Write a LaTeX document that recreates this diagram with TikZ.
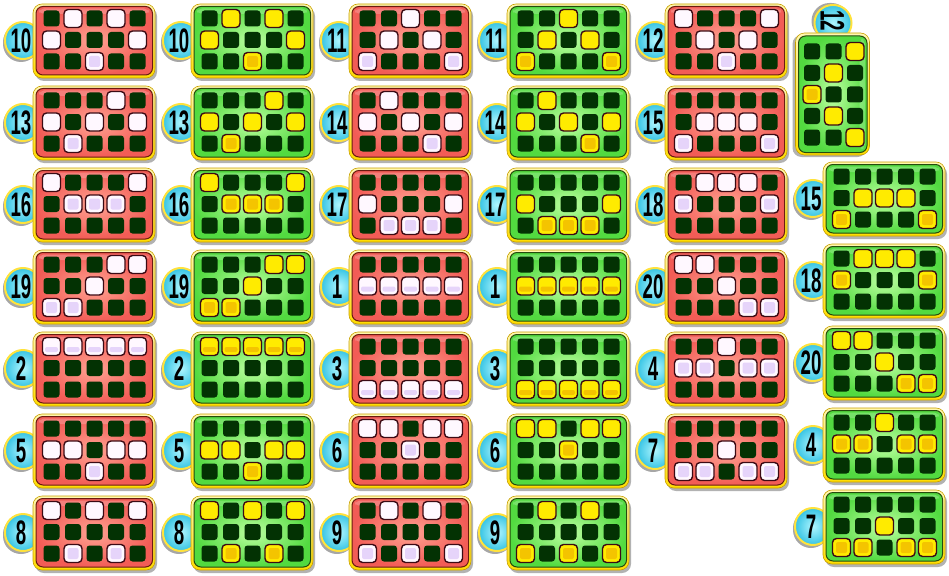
\documentclass[tikz,border=0pt]{standalone}
\usepackage{fontspec}
\newfontfamily\badgefont{Liberation Sans}

% 色
\definecolor{rimtop}{HTML}{FFF7B0}
\definecolor{rimbot}{HTML}{FFDC00}
\definecolor{rimline}{HTML}{C8A000}
\definecolor{redin}{HTML}{FFA292}
\definecolor{redout}{HTML}{F25C56}
\definecolor{redline}{HTML}{6A1A10}
\definecolor{greenin}{HTML}{BCFFA0}
\definecolor{greenout}{HTML}{52DA40}
\definecolor{greenline}{HTML}{244A0C}
\definecolor{darkcell}{HTML}{033203}
\definecolor{cellrim}{HTML}{3C0A14}
\definecolor{litwhite}{HTML}{FFF8FF}
\definecolor{lavender}{HTML}{E6D4FA}
\definecolor{lityellow}{HTML}{FFEB00}
\definecolor{litorange}{HTML}{F4C400}
\definecolor{badgein}{HTML}{B0F6FF}
\definecolor{badgeout}{HTML}{36C4E4}
\definecolor{badgerim}{HTML}{FFE23C}

\tikzset{
  cardshadow/.style={fill=black, opacity=.3, rounded corners=9pt},
  cardrim/.style={rounded corners=9pt, top color=rimtop, bottom color=rimbot, draw=rimline, line width=.6pt},
  redpanel/.style={rounded corners=7pt, inner color=redin, outer color=redout, draw=redline, line width=1pt},
  greenpanel/.style={rounded corners=7pt, inner color=greenin, outer color=greenout, draw=greenline, line width=1pt},
  gloss/.style={fill=white, opacity=.22, rounded corners=5pt},
  deadcell/.style={fill=darkcell, rounded corners=3pt},
  redlit/.style={fill=litwhite, draw=cellrim, line width=1.4pt, rounded corners=4pt},
  greenlit/.style={fill=lityellow, draw=cellrim, line width=1.4pt, rounded corners=4pt},
  redtint/.style={fill=lavender, rounded corners=2pt},
  greentint/.style={fill=litorange, rounded corners=2pt},
  badgeshadow/.style={fill=black, opacity=.35, rounded corners=18pt},
  badge/.style={rounded corners=18pt, inner color=badgein, outer color=badgeout, draw=badgerim, line width=2pt},
  badgenum/.style={font=\badgefont\bfseries\fontsize{34}{34}\selectfont, xscale=.55, inner sep=0pt},
}

% 光るマス: 列/行/種類 (1 白, 2 内側に色, 3 帯)
\newcommand{\defcells}[2]{\expandafter\def\csname cells-#1\endcsname{#2}}
\defcells{10}{1/0/1,3/0/1,0/1/1,4/1/1,2/2/2}
\defcells{13}{3/0/1,0/1/1,2/1/1,4/1/1,1/2/2}
\defcells{16}{0/0/1,4/0/1,1/1/2,2/1/2,3/1/2}
\defcells{19}{3/0/1,4/0/1,2/1/1,0/2/2,1/2/2}
\defcells{2}{0/0/3,1/0/3,2/0/3,3/0/3,4/0/3}
\defcells{5}{0/1/1,1/1/1,3/1/1,4/1/1,2/2/2}
\defcells{8}{0/0/1,2/0/1,4/0/1,1/2/2,3/2/2}
\defcells{11}{2/0/1,1/1/1,3/1/1,0/2/2,4/2/2}
\defcells{14}{1/0/1,0/1/1,2/1/1,4/1/1,3/2/2}
\defcells{17}{0/1/1,4/1/1,1/2/2,2/2/2,3/2/2}
\defcells{1}{0/1/3,1/1/3,2/1/3,3/1/3,4/1/3}
\defcells{3}{0/2/3,1/2/3,2/2/3,3/2/3,4/2/3}
\defcells{6}{0/0/1,1/0/1,3/0/1,4/0/1,2/1/2}
\defcells{9}{1/0/1,3/0/1,0/2/2,2/2/2,4/2/2}
\defcells{12}{0/0/1,4/0/1,1/1/1,3/1/1,2/2/2}
\defcells{15}{1/1/1,2/1/1,3/1/1,0/2/2,4/2/2}
\defcells{18}{1/0/1,2/0/1,3/0/1,0/1/2,4/1/2}
\defcells{20}{0/0/1,1/0/1,2/1/1,3/2/2,4/2/2}
\defcells{4}{2/0/1,0/1/2,1/1/2,3/1/2,4/1/2}
\defcells{7}{2/1/1,0/2/2,1/2/2,3/2/2,4/2/2}

% カード1枚 (左上が原点): #1 = red/green, #2 = 番号
\newcommand{\bingocard}[2]{%
  \expandafter\let\expandafter\thecells\csname cells-#2\endcsname
  % 番号札
  \fill[badgeshadow] (-30,20) rectangle (6,58);
  \draw[badge] (-28,18) rectangle (8,55);
  \node[badgenum] (num-#1-#2) at (-12,37) {#2};
  % 枠
  \fill[cardshadow] (2,3) rectangle (124,77);
  \draw[cardrim] (0,0) rectangle (122,74);
  \draw[#1panel] (3,2.5) rectangle (119.5,71);
  \fill[gloss] (6,4.5) rectangle (116,10);
  % マス
  \foreach \c in {0,...,4} {
    \foreach \r in {0,1,2} {
      \fill[deadcell] ({10.5+21.5*\c},{6.5+21.5*\r}) rectangle +(16,16);
    }
  }
  \foreach \c/\r/\t in \thecells {
    \pgfmathsetmacro{\cx}{18.5+21.5*\c}
    \pgfmathsetmacro{\cy}{14.5+21.5*\r}
    \draw[#1lit] ({\cx-9},{\cy-9}) rectangle +(18,18);
    \ifnum\t=2 \fill[#1tint] ({\cx-5.5},{\cy-5.5}) rectangle +(11,11); \fi
    \ifnum\t=3 \fill[#1tint] ({\cx-6.5},{\cy+0.5}) rectangle +(13,5); \fi
  }
}

\begin{document}
\begin{tikzpicture}[x=1pt, y=-1pt]

    \useasboundingbox (0,0) rectangle (949,575);

    % 1・2列目
    \foreach \n [count=\j from 0] in {10,13,16,19,2,5,8} {
        \begin{scope}[shift={(33,{4+82*\j})}] \bingocard{red}{\n} \end{scope}
        \begin{scope}[shift={(191,{4+82*\j})}] \bingocard{green}{\n} \end{scope}
    }

    % 3・4列目
    \foreach \n [count=\j from 0] in {11,14,17,1,3,6,9} {
        \begin{scope}[shift={(349,{4+82*\j})}] \bingocard{red}{\n} \end{scope}
        \begin{scope}[shift={(507,{4+82*\j})}] \bingocard{green}{\n} \end{scope}
    }

    % 5列目
    \foreach \n [count=\j from 0] in {12,15,18,20,4,7} {
        \begin{scope}[shift={(665,{4+82*\j})}] \bingocard{red}{\n} \end{scope}
    }

    % 右端の列
    \foreach \n [count=\j from 0] in {15,18,20,4,7} {
        \begin{scope}[shift={(823,{162+82*\j})}] \bingocard{green}{\n} \end{scope}
    }

    % 縦向きの12
    \begin{scope}[shift={(832.5,94)}, rotate=-90, transform shape, shift={(-61,-37)}]
        \bingocard{green}{12}
    \end{scope}

\end{tikzpicture}
\end{document}
